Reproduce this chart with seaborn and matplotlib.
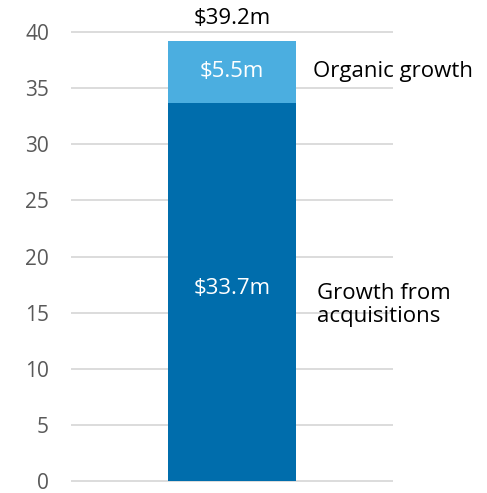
import matplotlib
matplotlib.use('Agg')
import matplotlib.pyplot as plt
import pandas as pd
import seaborn as sns

# data
categorie = ['Total']
acquisizioni = [33.7]
organico = [5.5]
totale = [a + o for a, o in zip(acquisizioni, organico)]
etichette_serie = ['Growth from\nacquisitions', 'Organic growth']

df = pd.DataFrame({'cat': categorie, 'acq': acquisizioni, 'org': organico, 'tot': totale})

sns.set_style('white')
plt.rcParams['font.family'] = ['Open Sans', 'DejaVu Sans']

fig = plt.figure(figsize=(4.87, 4.93), dpi=100)
ax = fig.add_axes([0.146, 0.012, 0.661, 0.935])

# stacked bar: total in light blue, acquisitions drawn over it in dark blue
sns.barplot(data=df, x='cat', y='tot', color='#4BAEE0', saturation=1, width=0.8, ax=ax,
            zorder=2, linewidth=0)
sns.barplot(data=df, x='cat', y='acq', color='#006DAC', saturation=1, width=0.8, ax=ax,
            zorder=3, linewidth=0)

ax.set_xlim(-1, 1)
ax.set_ylim(-0.5, 40.5)
ax.set_yticks(range(0, 41, 5))
ax.yaxis.grid(True, color='#D9D9D9', linewidth=1.3, zorder=0)
ax.set_axisbelow(True)
ax.set_xticks([])
ax.set_xlabel('')
ax.set_ylabel('')
ax.tick_params(axis='y', length=0, pad=16, labelsize=15, labelcolor='#595959')
for s in ax.spines.values():
    s.set_visible(False)

fs = 16
# value labels
ax.text(0, totale[0] + 1.95, f'${totale[0]:.1f}m', ha='center', va='center', fontsize=fs, color='black')
ax.text(0, acquisizioni[0] + organico[0] / 2, f'${organico[0]:.1f}m', ha='center', va='center',
        fontsize=fs, color='white')
ax.text(0, acquisizioni[0] / 2 + 0.3, f'${acquisizioni[0]:.1f}m', ha='center', va='center',
        fontsize=fs, color='white')

# series labels on the right
ax.text(0.503, acquisizioni[0] + organico[0] / 2, etichette_serie[1], ha='left', va='center',
        fontsize=fs, color='black')
ax.text(0.528, 15.7, etichette_serie[0], ha='left', va='center', fontsize=fs, color='black',
        linespacing=1.12)

fig.savefig('out.png', dpi=100)
